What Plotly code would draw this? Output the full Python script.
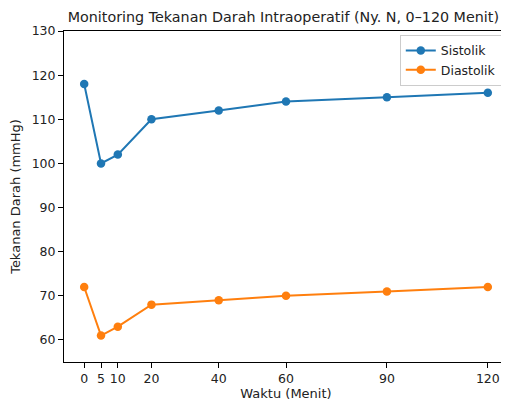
import plotly.graph_objects as go

waktu = [0, 5, 10, 20, 40, 60, 90, 120]
sistolik = [118, 100, 102, 110, 112, 114, 115, 116]
diastolik = [72, 61, 63, 68, 69, 70, 71, 72]
x_ticks = [0, 5, 10, 20, 40, 60, 90, 120]
y_ticks = [60, 70, 80, 90, 100, 110, 120, 130]

fig = go.Figure()
fig.add_trace(go.Scatter(x=waktu, y=sistolik, mode="lines+markers", name="Sistolik",
                         line=dict(color="#1f77b4", width=2), marker=dict(size=8.5, color="#1f77b4")))
fig.add_trace(go.Scatter(x=waktu, y=diastolik, mode="lines+markers", name="Diastolik",
                         line=dict(color="#ff7f0e", width=2), marker=dict(size=8.5, color="#ff7f0e")))

axis_common = dict(showgrid=False, zeroline=False, showline=True, linecolor="black", linewidth=1,
                   mirror=True, ticks="outside", ticklen=5, tickcolor="black", tickwidth=1,
                   tickfont=dict(size=12.5, color="#222222"))
W, H = 501, 393
fig.update_layout(
    width=W, height=H,
    margin=dict(l=56, r=1, t=23, b=39),
    paper_bgcolor="white", plot_bgcolor="white",
    font=dict(family="DejaVu Sans", color="#222222"),
    title=dict(text="Monitoring Tekanan Darah Intraoperatif (Ny. N, 0–120 Menit)",
               x=0.494, xanchor="center", xref="paper", y=1 - 9 / H, yanchor="middle",
               font=dict(size=14.3, color="#222222")),
    xaxis=dict(range=[-6, 126], tickvals=x_ticks,
               title=dict(text="Waktu (Menit)", font=dict(size=13), standoff=6), **axis_common),
    yaxis=dict(range=[55, 130], tickvals=y_ticks,
               title=dict(text="Tekanan Darah (mmHg)", font=dict(size=13), standoff=9), **axis_common),
    legend=dict(x=0.986, y=0.988, xanchor="right", yanchor="top", bgcolor="rgba(255,255,255,0.8)",
                bordercolor="#cccccc", borderwidth=1, font=dict(size=12.5), tracegroupgap=0),
    showlegend=True,
)
fig.write_html("out.html")
